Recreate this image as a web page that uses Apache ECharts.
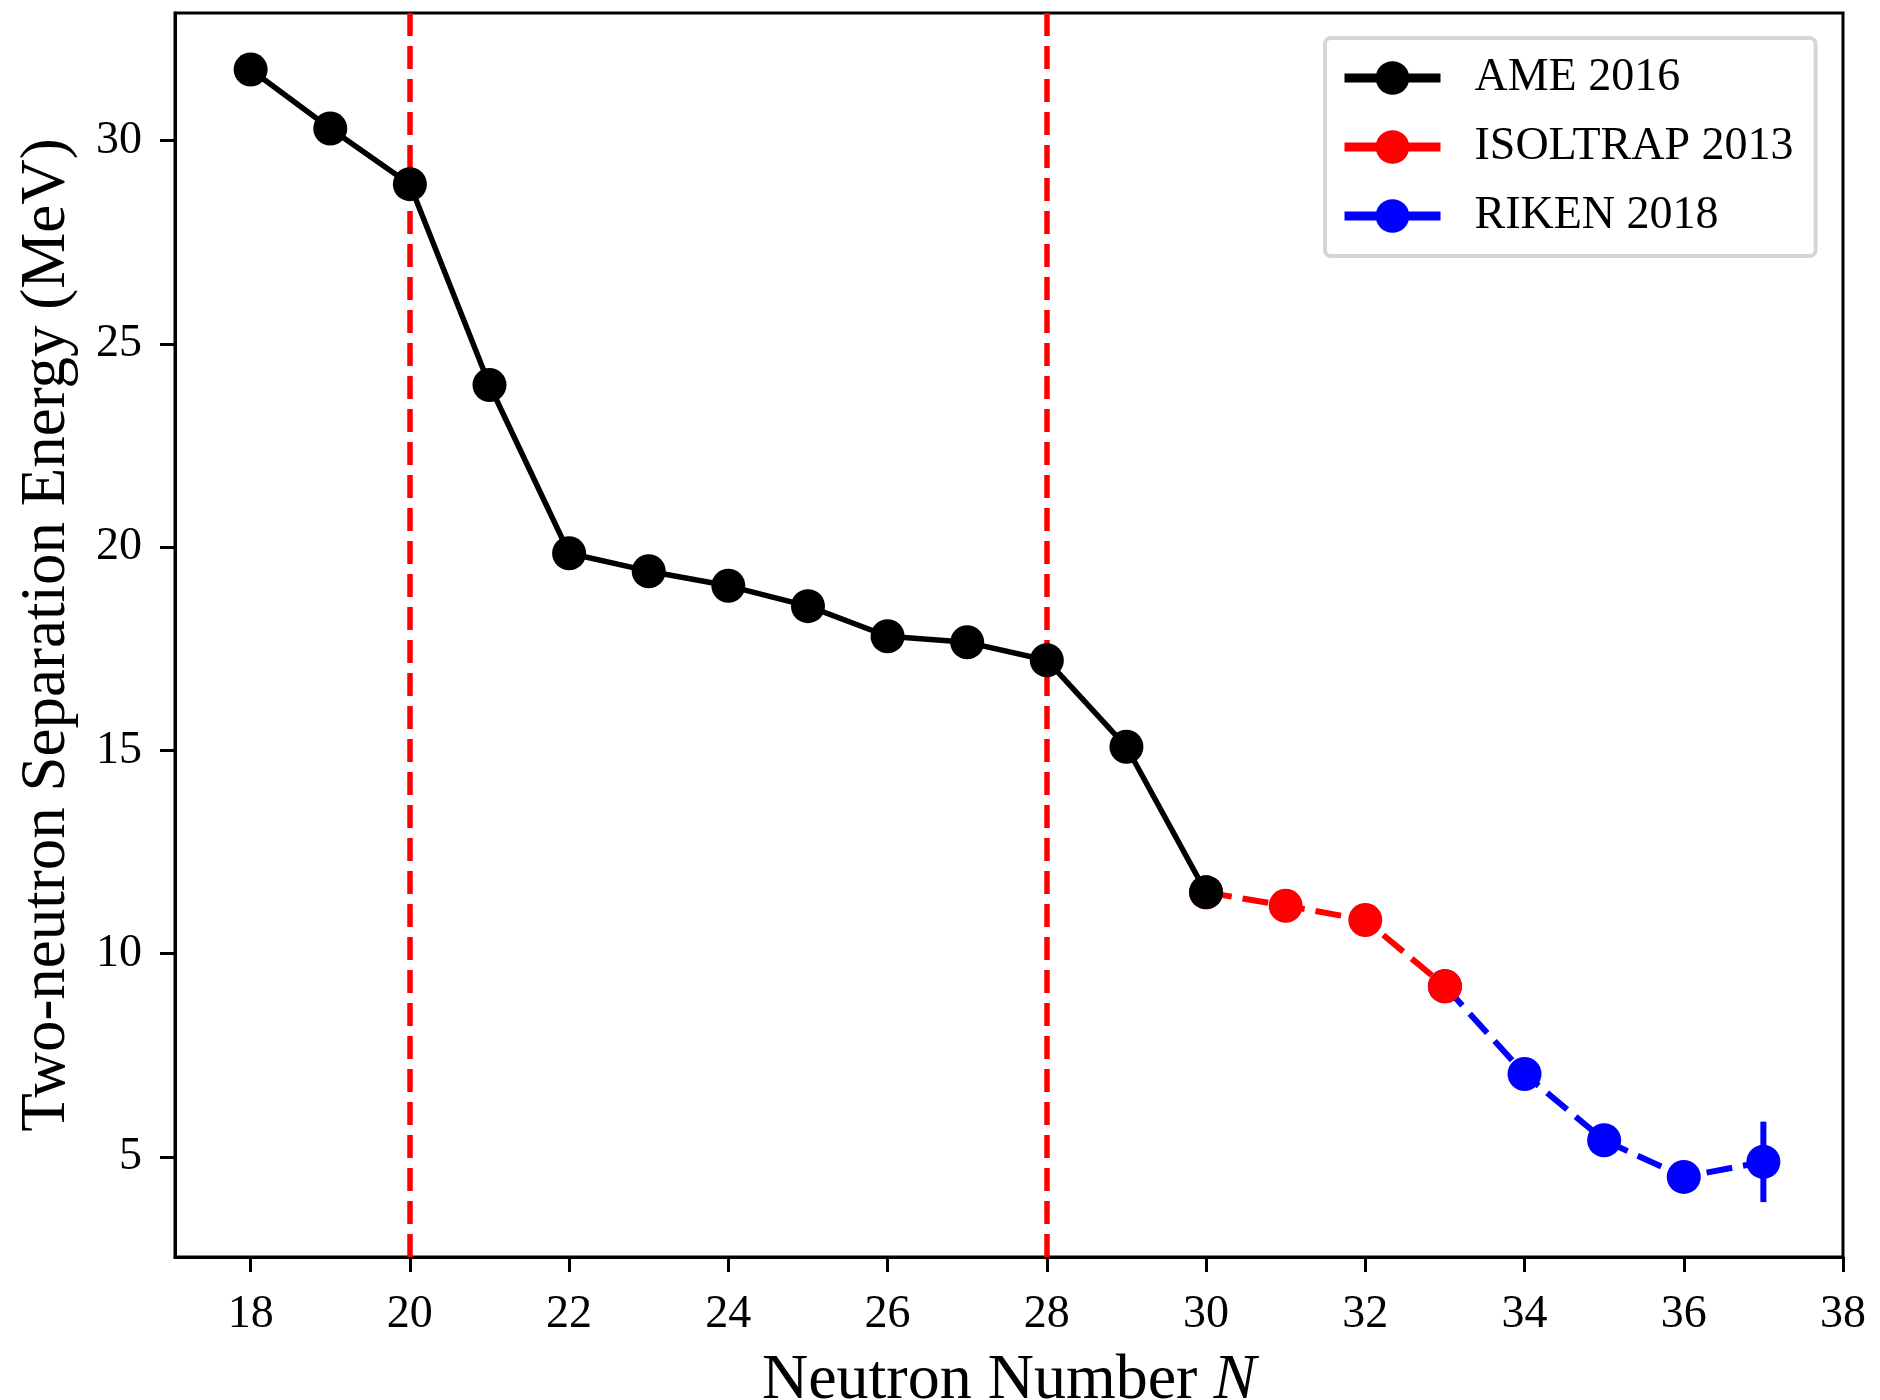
<!DOCTYPE html>
<html>
<head>
<meta charset="utf-8">
<script src="https://cdn.jsdelivr.net/npm/echarts@6/dist/echarts.min.js"></script>
<style>
html,body{margin:0;padding:0;background:#fff;}
#chart{width:1880px;height:1400px;}
</style>
</head>
<body>
<div id="chart"></div>
<script>
// ---- Data ----
const ameN    = [18, 19, 20, 21, 22, 23, 24, 25, 26, 27, 28, 29, 30];
const ameS2n  = [31.75, 30.30, 28.93, 23.99, 19.85, 19.41, 19.05, 18.55, 17.81, 17.66, 17.22, 15.09, 11.51];
const isoN    = [30, 31, 32, 33];
const isoS2n  = [11.51, 11.18, 10.83, 9.20];
const rikenN  = [33, 34, 35, 36, 37];
const rikenS2n = [9.20, 7.04, 5.41, 4.51, 4.88];
const rikenErr = [0, 0, 0, 0, 0.99];
const shellClosures = [20, 28];
const xTicks = [18, 20, 22, 24, 26, 28, 30, 32, 34, 36, 38];
const yTicks = [5, 10, 15, 20, 25, 30];
const seriesNames = ['AME 2016', 'ISOLTRAP 2013', 'RIKEN 2018'];

const FONT = 'Liberation Serif';
const pairs = (xs, ys) => xs.map((x, i) => [x, ys[i]]);

const chart = echarts.init(document.getElementById('chart'), null, {renderer: 'canvas'});
const option = {
  animation: false,
  backgroundColor: '#fff',
  grid: {
    left: 175, right: 37, top: 13, bottom: 143,
    outerBoundsMode: 'none', containLabel: false,
    show: true, borderColor: '#000', borderWidth: 3, backgroundColor: 'transparent'
  },
  legend: {
    orient: 'vertical',
    left: 1325, top: 38,
    padding: [17, 22, 17, 15],
    itemWidth: 96, itemHeight: 42, itemGap: 23,
    backgroundColor: '#fff',
    borderColor: '#d6d6d6', borderWidth: 4, borderRadius: 6,
    lineStyle: {type: 'solid', width: 9},
    textStyle: {fontFamily: FONT, fontSize: 46, color: '#000', lineHeight: 46, padding: [0, 0, 0, 29]},
    data: seriesNames
  },
  xAxis: {
    type: 'value', min: 17.05, max: 38,
    name: 'Neutron Number {i|N}',
    nameLocation: 'middle', nameGap: 92,
    nameTextStyle: {fontFamily: FONT, fontSize: 64, color: '#000',
      rich: {i: {fontFamily: FONT, fontSize: 64, fontStyle: 'italic', color: '#000'}}},
    axisLine: {show: true, lineStyle: {color: '#000', width: 3}},
    axisTick: {show: true, inside: false, length: 15, lineStyle: {color: '#000', width: 3}, customValues: xTicks},
    axisLabel: {fontFamily: FONT, fontSize: 46, color: '#000', margin: 35, customValues: xTicks},
    splitLine: {show: false}
  },
  yAxis: {
    type: 'value', min: 2.54, max: 33.14,
    name: 'Two-neutron Separation Energy (MeV)',
    nameLocation: 'middle', nameGap: 96,
    nameTextStyle: {fontFamily: FONT, fontSize: 63, color: '#000'},
    axisLine: {show: true, lineStyle: {color: '#000', width: 3}},
    axisTick: {show: true, inside: false, length: 15, lineStyle: {color: '#000', width: 3}, customValues: yTicks},
    axisLabel: {fontFamily: FONT, fontSize: 46, color: '#000', margin: 33, customValues: yTicks},
    splitLine: {show: false}
  },
  series: [
    {
      name: 'RIKEN 2018', type: 'line', z: 2,
      data: pairs(rikenN, rikenS2n),
      symbol: 'circle', symbolSize: 34, showSymbol: true,
      itemStyle: {color: '#0000ff', borderWidth: 0},
      lineStyle: {color: '#0000ff', width: 6, type: [26, 11]},
      markLine: {
        silent: true, z: 1, symbol: ['none', 'none'],
        label: {show: false},
        lineStyle: {color: '#ff0000', width: 5.5, type: [23, 10]},
        data: shellClosures.map(v => ({xAxis: v}))
      }
    },
    {
      name: 'RIKEN 2018 err', type: 'custom', z: 2,
      data: rikenN.map((n, i) => [n, rikenS2n[i] - rikenErr[i], rikenS2n[i] + rikenErr[i]]).filter((d, i) => rikenErr[i] > 0),
      renderItem: function (params, api) {
        const p1 = api.coord([api.value(0), api.value(1)]);
        const p2 = api.coord([api.value(0), api.value(2)]);
        return {type: 'line', shape: {x1: p1[0], y1: p1[1], x2: p2[0], y2: p2[1]},
          style: {stroke: '#0000ff', lineWidth: 6}};
      }
    },
    {
      name: 'ISOLTRAP 2013', type: 'line', z: 3,
      data: pairs(isoN, isoS2n),
      symbol: 'circle', symbolSize: 34, showSymbol: true,
      itemStyle: {color: '#ff0000', borderWidth: 0},
      lineStyle: {color: '#ff0000', width: 6, type: [26, 11]}
    },
    {
      name: 'AME 2016', type: 'line', z: 4,
      data: pairs(ameN, ameS2n),
      symbol: 'circle', symbolSize: 34, showSymbol: true,
      itemStyle: {color: '#000000', borderWidth: 0},
      lineStyle: {color: '#000000', width: 5.5, type: 'solid'}
    }
  ]
};
chart.setOption(option);
</script>
</body>
</html>
